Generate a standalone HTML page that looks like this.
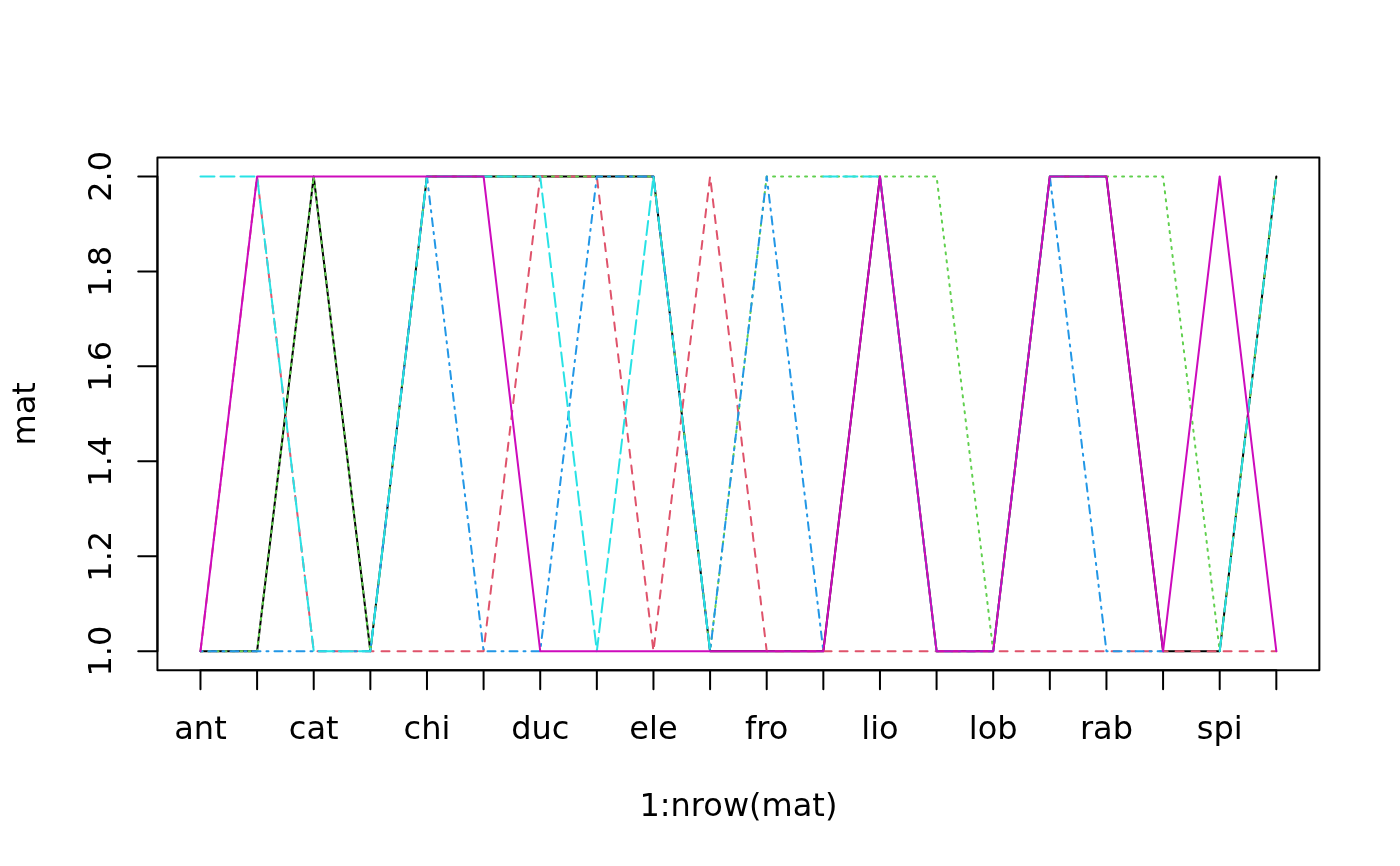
<!DOCTYPE html>
<html lang="en"><head><meta charset="utf-8"><title>matplot</title>
<style>
html,body{margin:0;padding:0;background:#fff;}
body{width:1400px;height:866px;overflow:hidden;}
svg{display:block;will-change:transform;}
text{font-family:"DejaVu Sans","Liberation Sans",sans-serif;font-size:32px;fill:#000;}
</style></head><body>
<svg width="1400" height="866" viewBox="0 0 1400 866">
<rect width="1400" height="866" fill="#fff"/>
<g fill="none" stroke-width="2" stroke-linecap="round" stroke-linejoin="round">
<polyline points="200.47,651.17 257.1,651.17 313.72,176.43 370.35,651.17 426.97,176.43 483.59,176.43 540.22,176.43 596.84,176.43 653.46,176.43 710.09,651.17 766.71,651.17 823.34,651.17 879.96,176.43 936.58,651.17 993.21,651.17 1049.83,176.43 1106.45,176.43 1163.08,651.17 1219.7,651.17 1276.33,176.43" stroke="#000000"/>
<polyline points="200.47,651.17 257.1,176.43 313.72,651.17 370.35,651.17 426.97,651.17 483.59,651.17 540.22,176.43 596.84,176.43 653.46,651.17 710.09,176.43 766.71,651.17 823.34,651.17 879.96,651.17 936.58,651.17 993.21,651.17 1049.83,651.17 1106.45,651.17 1163.08,651.17 1219.7,651.17 1276.33,651.17" stroke="#DF536B" stroke-dasharray="8 8"/>
<polyline points="200.47,651.17 257.1,651.17 313.72,176.43 370.35,651.17 426.97,176.43 483.59,176.43 540.22,176.43 596.84,176.43 653.46,176.43 710.09,651.17 766.71,176.43 823.34,176.43 879.96,176.43 936.58,176.43 993.21,651.17 1049.83,176.43 1106.45,176.43 1163.08,176.43 1219.7,651.17 1276.33,176.43" stroke="#61D04F" stroke-dasharray="2 6"/>
<polyline points="200.47,651.17 257.1,651.17 313.72,651.17 370.35,651.17 426.97,176.43 483.59,651.17 540.22,651.17 596.84,176.43 653.46,176.43 710.09,651.17 766.71,176.43 823.34,651.17" stroke="#2297E6" stroke-dasharray="2 6 8 6"/>
<polyline points="936.58,651.17 993.21,651.17 1049.83,176.43 1106.45,651.17 1163.08,651.17" stroke="#2297E6" stroke-dasharray="2 6 8 6"/>
<polyline points="200.47,176.43 257.1,176.43 313.72,651.17 370.35,651.17 426.97,176.43 483.59,176.43 540.22,176.43 596.84,651.17 653.46,176.43 710.09,651.17" stroke="#28E2E5" stroke-dasharray="14 6"/>
<polyline points="823.34,176.43 879.96,176.43 936.58,651.17" stroke="#28E2E5" stroke-dasharray="14 6"/>
<polyline points="1049.83,176.43 1106.45,176.43" stroke="#28E2E5" stroke-dasharray="14 6"/>
<polyline points="1219.7,651.17 1276.33,176.43" stroke="#28E2E5" stroke-dasharray="14 6"/>
<polyline points="200.47,651.17 257.1,176.43 313.72,176.43 370.35,176.43 426.97,176.43 483.59,176.43 540.22,651.17 596.84,651.17 653.46,651.17 710.09,651.17 766.71,651.17 823.34,651.17 879.96,176.43 936.58,651.17 993.21,651.17 1049.83,176.43 1106.45,176.43 1163.08,651.17 1219.7,176.43 1276.33,651.17" stroke="#CD0BBC"/>
</g>
<g fill="none" stroke="#000" stroke-width="2" stroke-linecap="round" stroke-linejoin="round">
<path d="M200.47,670.16H1276.33M200.47,670.16v19.2M257.1,670.16v19.2M313.72,670.16v19.2M370.35,670.16v19.2M426.97,670.16v19.2M483.59,670.16v19.2M540.22,670.16v19.2M596.84,670.16v19.2M653.46,670.16v19.2M710.09,670.16v19.2M766.71,670.16v19.2M823.34,670.16v19.2M879.96,670.16v19.2M936.58,670.16v19.2M993.21,670.16v19.2M1049.83,670.16v19.2M1106.45,670.16v19.2M1163.08,670.16v19.2M1219.7,670.16v19.2M1276.33,670.16v19.2"/>
<path d="M157.44,651.17V176.43M157.44,651.17h-19.2M157.44,556.22h-19.2M157.44,461.27h-19.2M157.44,366.33h-19.2M157.44,271.38h-19.2M157.44,176.43h-19.2"/>
<rect x="157.44" y="157.44" width="1161.92" height="512.72"/>
</g>
<g text-anchor="middle">
<text x="200.47" y="739.28">ant</text>
<text x="313.72" y="739.28">cat</text>
<text x="426.97" y="739.28">chi</text>
<text x="540.22" y="739.28">duc</text>
<text x="653.46" y="739.28">ele</text>
<text x="766.71" y="739.28">fro</text>
<text x="879.96" y="739.28">lio</text>
<text x="993.21" y="739.28">lob</text>
<text x="1106.45" y="739.28">rab</text>
<text x="1219.7" y="739.28">spi</text>
<text x="738.4" y="816.08">1:nrow(mat)</text>
<text transform="translate(111.36,651.17) rotate(-90)">1.0</text>
<text transform="translate(111.36,556.22) rotate(-90)">1.2</text>
<text transform="translate(111.36,461.27) rotate(-90)">1.4</text>
<text transform="translate(111.36,366.33) rotate(-90)">1.6</text>
<text transform="translate(111.36,271.38) rotate(-90)">1.8</text>
<text transform="translate(111.36,176.43) rotate(-90)">2.0</text>
<text transform="translate(34.56,413.8) rotate(-90)">mat</text>
</g>
</svg></body></html>
